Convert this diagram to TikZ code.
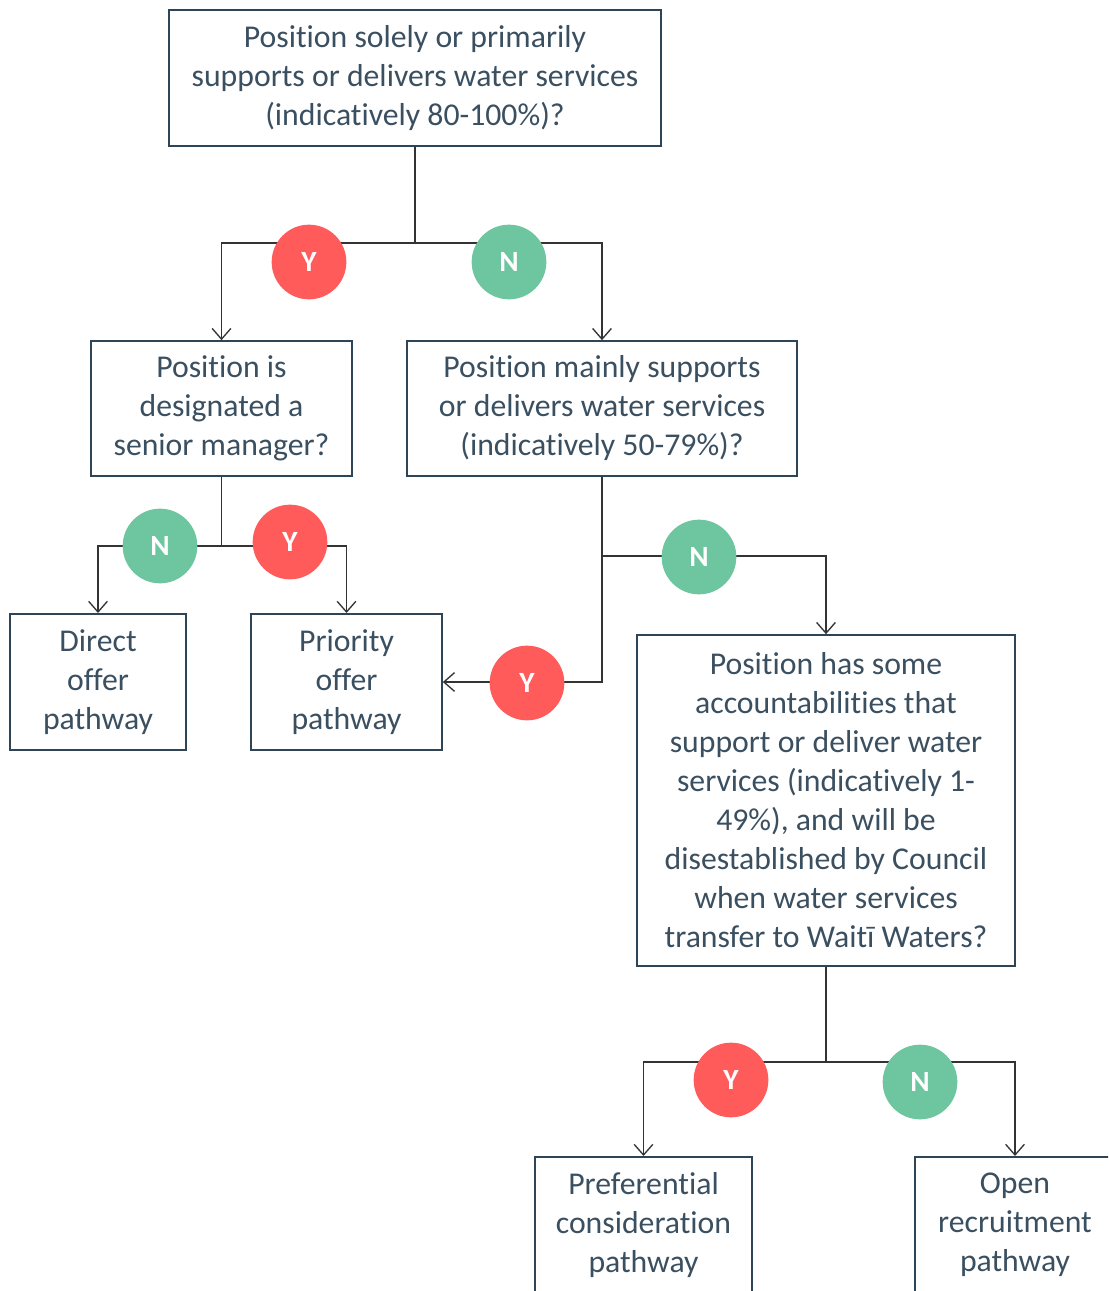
\documentclass[tikz,border=0pt]{standalone}
\usepackage{fontspec}
\setmainfont{Carlito}[Ligatures=NoCommon]
\usetikzlibrary{arrows.meta, positioning}

\definecolor{boxline}{HTML}{2E4557}
\definecolor{boxtext}{HTML}{3A4F60}
\definecolor{yesred}{HTML}{FF5B5B}
\definecolor{nogreen}{HTML}{6EC6A0}
\definecolor{wire}{HTML}{333333}

\begin{document}
\begin{tikzpicture}[x=0.75pt, y=-0.75pt,
    question/.style={rectangle, draw=boxline, line width=1.5pt, fill=white, inner sep=0pt, align=center, text=boxtext, font=\fontsize{23.8}{29.25}\selectfont},
    pathway/.style={question},
    answer/.style={circle, minimum size=56pt, inner sep=0pt, text=white, font=\fontsize{22}{24}\selectfont\bfseries},
    yes/.style={answer, fill=yesred},
    no/.style={answer, fill=nogreen},
    edge/.style={-{Straight Barb[length=8pt, width=14pt]}, wire, line width=1pt},
    stem/.style={wire, line width=1pt},
]

\clip (0,0) rectangle (1108,1291);
\fill[white] (0,0) rectangle (1108,1291);

% === QUESTIONS ===
\node[question, minimum width=369pt, minimum height=102pt] (q1) at (415,78)
    {Position solely or primarily\\supports or delivers water services\\(indicatively 80-100\%)?};
\node[question, minimum width=196pt, minimum height=101pt] (q2) at (221.5,408.5)
    {Position is\\designated a\\senior manager?};
\node[question, minimum width=292.5pt, minimum height=101pt] (q3) at (602,408.5)
    {Position mainly supports\\or delivers water services\\(indicatively 50-79\%)?};
\node[question, minimum width=283.5pt, minimum height=248pt] (q4) at (826,800.5)
    {Position has some\\accountabilities that\\support or deliver water\\services (indicatively 1-\\49\%), and will be\\disestablished by Council\\when water services\\transfer to Wait\={\i} Waters?};

% === PATHWAYS ===
\node[pathway, minimum width=132pt, minimum height=102pt] (p1) at (98,682) {Direct\\offer\\pathway};
\node[pathway, minimum width=143pt, minimum height=102pt] (p2) at (346.5,682) {Priority\\offer\\pathway};
\node[pathway, minimum width=163pt, minimum height=102pt] (p3) at (643.5,1225) {Preferential\\consideration\\pathway};
\node[pathway, minimum width=150pt, minimum height=102pt] (p4) at (1015,1225) {Open\\recruitment\\pathway};

% === JUNCTIONS ===
\coordinate (j1) at (415,243);
\coordinate (j2) at (221.5,546);
\coordinate (j3) at (602,556);
\coordinate (j4) at (826,1062);

% === CONNECTORS ===
\draw[stem] (q1) -- (j1);
\draw[edge] (j1) -| (q2.north);
\draw[edge] (j1) -| (q3.north);

\draw[stem] (q2) -- (j2);
\draw[edge] (j2) -| (p1.north);
\draw[edge] (j2) -| (p2.north);

\draw[edge] (q3.south) |- (p2.east);
\draw[edge] (j3) -| (q4.north);

\draw[stem] (q4) -- (j4);
\draw[edge] (j4) -| (p3.north);
\draw[edge] (j4) -| (p4.north);

% === ANSWERS ===
\node[yes] (a1y) at (309,262) {Y};
\node[no] (a1n) at (509,262) {N};
\node[no] (a2n) at (160,546) {N};
\node[yes] (a2y) at (290,542) {Y};
\node[no] (a3n) at (699,557) {N};
\node[yes] (a3y) at (527,683) {Y};
\node[yes] (a4y) at (731,1080) {Y};
\node[no] (a4n) at (920,1082) {N};

\end{tikzpicture}
\end{document}
